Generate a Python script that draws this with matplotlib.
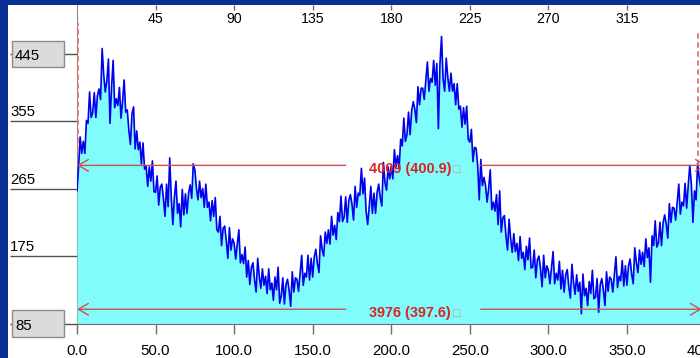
import numpy as np
import matplotlib
matplotlib.use("Agg")
import matplotlib.pyplot as plt
from matplotlib.patches import Rectangle

plt.rcParams['font.family'] = ['Liberation Sans', 'DejaVu Sans']

# Sampled trace, one reading per x unit starting at x = 0
signal = [
    262, 294, 334, 312, 328, 312, 356, 352, 394, 360,
    366, 393, 360, 389, 398, 384, 452, 417, 394, 409,
    438, 352, 400, 436, 373, 385, 376, 400, 359, 381,
    410, 367, 370, 343, 324, 365, 374, 318, 342, 317,
    327, 298, 326, 291, 295, 268, 294, 275, 302, 261,
    260, 282, 243, 267, 271, 252, 228, 271, 241, 306,
    253, 217, 254, 275, 232, 245, 214, 264, 230, 258,
    232, 259, 270, 252, 298, 290, 266, 250, 275, 253,
    265, 240, 271, 240, 247, 222, 249, 228, 253, 210,
    207, 228, 189, 212, 215, 196, 172, 213, 183, 198,
    192, 171, 191, 210, 166, 177, 165, 187, 147, 169,
    137, 160, 166, 143, 127, 172, 148, 132, 158, 136,
    148, 125, 158, 130, 139, 116, 147, 130, 160, 112,
    122, 146, 111, 137, 144, 129, 108, 154, 127, 146,
    144, 128, 152, 176, 136, 152, 147, 176, 143, 172,
    147, 174, 184, 165, 153, 202, 184, 175, 207, 192,
    210, 191, 228, 203, 216, 197, 233, 221, 255, 221,
    227, 254, 220, 249, 257, 244, 223, 268, 240, 259,
    256, 292, 258, 279, 235, 217, 241, 268, 232, 259,
    232, 260, 271, 253, 242, 300, 273, 263, 294, 278,
    295, 278, 317, 294, 309, 292, 331, 322, 359, 328,
    337, 367, 337, 369, 381, 371, 353, 401, 377, 399,
    399, 384, 409, 434, 395, 412, 407, 436, 403, 432,
    345, 431, 468, 411, 395, 439, 413, 395, 419, 395,
    405, 377, 405, 371, 375, 347, 373, 351, 375, 331,
    327, 344, 301, 320, 319, 296, 250, 304, 269, 280,
    269, 247, 265, 290, 237, 247, 235, 257, 217, 262,
    207, 226, 229, 202, 183, 224, 198, 180, 205, 181,
    192, 169, 201, 172, 180, 157, 188, 170, 199, 159,
    160, 183, 146, 170, 175, 158, 134, 176, 146, 162,
    156, 138, 159, 181, 138, 152, 143, 168, 131, 156,
    127, 150, 157, 134, 119, 164, 140, 124, 150, 128,
    140, 98, 151, 122, 132, 109, 141, 125, 156, 118,
    120, 145, 100, 137, 145, 130, 109, 154, 128, 147,
    144, 127, 150, 174, 133, 148, 142, 169, 135, 162,
    136, 162, 171, 151, 138, 186, 166, 153, 183, 164,
    180, 161, 198, 173, 186, 140, 202, 189, 222, 187,
    192, 220, 189, 219, 230, 218, 199, 245, 220, 240,
    239, 223, 247, 271, 231, 247, 242, 272, 239, 269,
    296, 271, 220, 262, 250, 299, 279, 266, 296,
]
x_step = 1.0

bottom_ticks = [0, 50, 100, 150, 200, 250, 300, 350, 400]
bottom_labels = ['0.0', '50.0', '100.0', '150.0', '200.0', '250.0', '300.0', '350.0', '400.0']
top_ticks_deg = [45, 90, 135, 180, 225, 270, 315]
y_ticks = [85, 175, 265, 355, 445]
boxed_ticks = [85, 445]

# measuring cursors: (start, end, level, readout)
cursors = [
    (0.0, 400.9, 296, '4009 (400.9)'),
    (0.0, 397.6, 104, '3976 (397.6)'),
]
readout_gap = (171, 257)

FRAME_BLUE = '#0a3096'
FILL_CYAN = '#80fcfc'
TRACE_BLUE = '#0000ee'
CURSOR_RED = '#d05050'
TEXT_RED = '#dd2222'
AXIS_GREY = '#6e6e6e'

W, H = 700, 358
fig = plt.figure(figsize=(W / 100, H / 100), dpi=100, facecolor=FRAME_BLUE)
fig.add_artist(Rectangle((8 / W, 0), (W - 8) / W, (H - 5) / H,
                         transform=fig.transFigure, facecolor='white',
                         edgecolor='none', zorder=-1))

ax_left, ax_bottom = 77, 34.5
ax = fig.add_axes([ax_left / W, ax_bottom / H, (W - ax_left) / W, (H - 5 - ax_bottom) / H])
ax.set_facecolor('white')

x = np.arange(len(signal)) * x_step
ax.set_xlim(0, 396.5)
ax.set_ylim(85, 510)

ax.fill_between(x, signal, 85, color=FILL_CYAN, lw=0, zorder=2)
ax.plot(x, signal, color=TRACE_BLUE, lw=1.2, zorder=3)

# spines
for side in ('top', 'right'):
    ax.spines[side].set_visible(False)
ax.spines['left'].set_color('#8a8a8a')
ax.spines['left'].set_zorder(1)
ax.spines['bottom'].set_color(AXIS_GREY)
ax.spines['bottom'].set_zorder(5)

# bottom axis
ax.set_xticks(bottom_ticks[:-1], bottom_labels[:-1])
ax.tick_params(axis='x', direction='out', length=7.2, width=1, color=AXIS_GREY,
               labelsize=10.8, pad=7.5, labelcolor='black')
ax.annotate(bottom_labels[-1], xy=(bottom_ticks[-1], 0), xycoords=('data', 'axes fraction'),
            xytext=(0, -14.7), textcoords='offset points', ha='center', va='top',
            fontsize=10.8, annotation_clip=False)

# top axis in degrees
sec = ax.secondary_xaxis('top', functions=(lambda v: v * 0.9, lambda v: v / 0.9))
sec.set_xticks(top_ticks_deg)
sec.tick_params(direction='in', length=3.6, width=1, color=AXIS_GREY, labeltop=False)
sec.spines['top'].set_visible(False)
for deg in top_ticks_deg:
    ax.annotate(str(deg), xy=(deg / 0.9, 1), xycoords=('data', 'axes fraction'),
                xytext=(0, -5), textcoords='offset points', ha='center', va='top',
                fontsize=10.2)

# left axis: long tick rules with the labels sitting on them
ax.set_yticks(y_ticks, [''] * len(y_ticks))
ax.tick_params(axis='y', direction='out', length=48, width=1, color='#505050')
for val in y_ticks:
    if val in boxed_ticks:
        ax.add_patch(Rectangle((-65 / 623, val - 17.5), 52 / 623, 35,
                               transform=ax.get_yaxis_transform(), clip_on=False,
                               facecolor='#dcdada', edgecolor='#8c8c8c', lw=1, zorder=6))
        ax.annotate(str(val), xy=(-62 / 623, val), xycoords=('axes fraction', 'data'),
                    xytext=(0, -1.5), textcoords='offset points', ha='left', va='center',
                    fontsize=10.8, zorder=7, annotation_clip=False)
    else:
        ax.annotate(str(val), xy=(-67 / 623, val), xycoords=('axes fraction', 'data'),
                    xytext=(0, 3.6), textcoords='offset points', ha='left', va='baseline',
                    fontsize=10.8, annotation_clip=False)

# dashed cursor markers
ax.vlines(0.5, 314, 486, colors='#e07878', linestyles=(0, (3, 2)), lw=1.3, zorder=4)
ax.vlines(395.3, 296, 477, colors='#e07878', linestyles=(0, (3, 2)), lw=1.3, zorder=4)

# cursor spans with readouts
arrow = dict(arrowstyle='->,head_length=0.6,head_width=0.35', color=CURSOR_RED,
             lw=1, shrinkA=0, shrinkB=0, mutation_scale=12)
for start, end, level, readout in cursors:
    ax.annotate('', xy=(start, level), xytext=(readout_gap[0], level),
                arrowprops=arrow, annotation_clip=False, zorder=5)
    ax.annotate('', xy=(end, level), xytext=(readout_gap[1], level),
                arrowprops=arrow, annotation_clip=False, zorder=5)
    ax.text(186, level - 4.5, readout, color=TEXT_RED, fontsize=10.4,
            fontweight='bold', ha='left', va='center', zorder=6)
    ax.text(238, level - 4.5, '\u25a1', color='#c0a8a8', fontsize=7.5,
            family=['DejaVu Sans'], ha='left', va='center', zorder=6)

fig.savefig('out.png', dpi=100, facecolor=FRAME_BLUE)
